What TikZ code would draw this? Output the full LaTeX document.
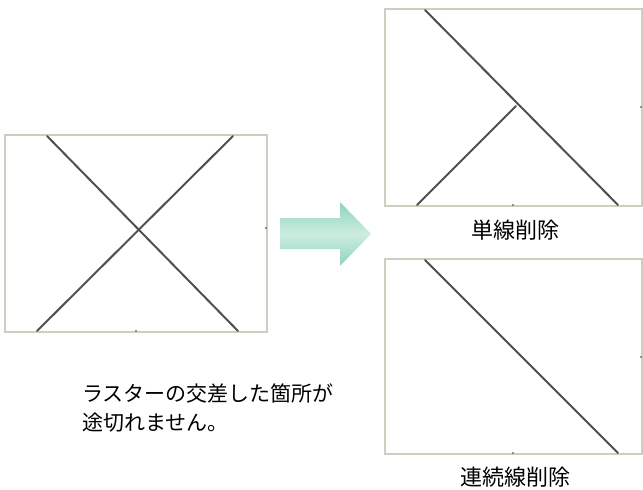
\documentclass[tikz,border=0pt]{standalone}
\usepackage{fontspec}
\newfontfamily\jp{Noto Sans CJK JP}
\usetikzlibrary{shapes.arrows}
\definecolor{frame}{HTML}{CFCCC0}
\definecolor{ink}{HTML}{505050}
\definecolor{mintdark}{HTML}{8ED2BE}
\definecolor{mintlight}{HTML}{CDEDE0}
\tikzset{
  x=1pt, y=-1pt,
  panel/.style={draw=frame, line width=2.2pt, fill=white},
  raster/.style={draw=ink, line width=2pt, line cap=round},
  tick/.style={draw=frame!70!black, line width=1.2pt},
  lbl/.style={font=\jp\fontsize{22}{26}\selectfont, text=black, inner sep=0pt},
  captext/.style={font=\jp\fontsize{21}{29}\selectfont, text=black, inner sep=0pt},
}
\begin{document}
\begin{tikzpicture}
\useasboundingbox (0,0) rectangle (643,490);
% left panel
\draw[panel] (5,135) rectangle (267,332);
\coordinate (a1) at (47,136); \coordinate (a2) at (238,331);
\coordinate (b1) at (37,331); \coordinate (b2) at (233,136);
\draw[raster] (a1) -- (a2);
\draw[raster] (b1) -- (b2);
\draw[tick] (136,332) -- (136,330);
\draw[tick] (267,228) -- (265,228);
% top right panel
\draw[panel] (385,9) rectangle (642,206);
\coordinate (c1) at (425,10); \coordinate (c2) at (618,205);
\coordinate (d1) at (417,205); \coordinate (d2) at (516,106);
\draw[raster] (c1) -- (c2);
\draw[raster] (d1) -- (d2);
\draw[tick] (513,206) -- (513,204);
\draw[tick] (642,107) -- (640,107);
\node[lbl] (l1) at (515,230) {単線削除};
% bottom right panel
\draw[panel] (385,259) rectangle (642,454);
\coordinate (e1) at (425,260); \coordinate (e2) at (618,453);
\draw[raster] (e1) -- (e2);
\draw[tick] (513,454) -- (513,452);
\draw[tick] (642,357) -- (640,357);
\node[lbl] (l2) at (515,477) {連続線削除};
% arrow
\shade[top color=mintdark, bottom color=mintdark, middle color=mintlight]
  (280,218) -- (340,218) -- (340,202) -- (371,234) -- (340,266) -- (340,249) -- (280,249) -- cycle;
% caption
\node[captext, anchor=west, align=left] (capnode) at (82,407.5) {ラスターの交差した箇所が\\途切れません。};
\end{tikzpicture}
\end{document}
